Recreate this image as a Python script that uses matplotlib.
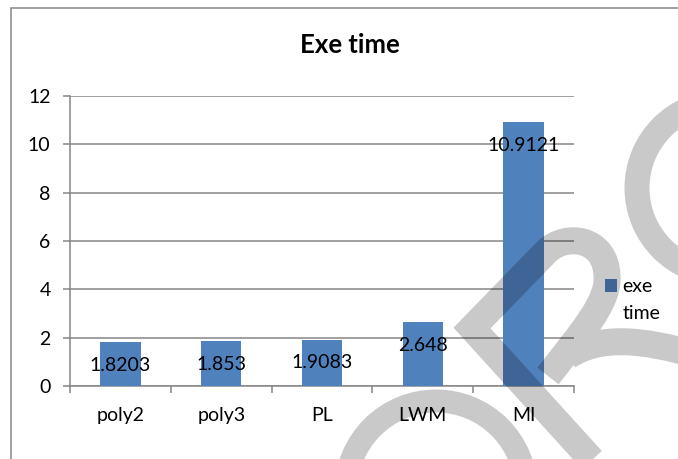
import matplotlib
matplotlib.use("Agg")
import matplotlib.pyplot as plt
from matplotlib.path import Path
from matplotlib.patches import PathPatch, Arc, Rectangle, Patch
import numpy as np

categories = ["poly2", "poly3", "PL", "LWM", "MI"]
exe_time = [1.8203, 1.853, 1.9083, 2.648, 10.9121]
value_labels = ["1.8203", "1.853", "1.9083", "2.648", "10.9121"]
yticks = [0, 2, 4, 6, 8, 10, 12]
series_name = ["exe", "time"]   # legend entry wraps onto two lines

BAR = "#4F81BD"
GRID = "#868686"
FONT = ["Lato", "DejaVu Sans"]
FS = 14

plt.rcParams["font.family"] = FONT

W, H = 678, 459
fig = plt.figure(figsize=(W / 100, H / 100), dpi=100)
fig.patch.set_facecolor("white")

# chart area border (runs off the right and bottom edge)
fig.add_artist(Rectangle((11 / W, -0.05), 1.1, 1 - 8 / H + 0.05, transform=fig.transFigure,
                         fill=False, edgecolor=GRID, linewidth=1.1))

ax = fig.add_axes([70 / W, 1 - 386 / H, (574 - 70) / W, (386 - 96) / H])
x = np.arange(len(categories))
bars = ax.bar(x, exe_time, width=0.4, color=BAR, zorder=3)

ax.set_xlim(-0.5, len(categories) - 0.5)
ax.set_ylim(0, 12)
ax.set_yticks(yticks)
ax.set_yticklabels([str(t) for t in yticks])
ax.set_xticks(x)
ax.set_xticklabels(categories)
ax.set_xticks(np.arange(len(categories) + 1) - 0.5, minor=True)

ax.yaxis.grid(True, color=GRID, linewidth=1.1, zorder=1)
ax.set_axisbelow(True)
for s in ["top", "right"]:
    ax.spines[s].set_visible(False)
for s in ["left", "bottom"]:
    ax.spines[s].set_color(GRID)
    ax.spines[s].set_linewidth(1.1)

ax.tick_params(axis="y", direction="out", length=5, width=1.1, color=GRID,
               labelsize=FS, pad=9, labelcolor="black")
ax.tick_params(axis="x", which="major", length=0, labelsize=FS, pad=15, labelcolor="black")
ax.tick_params(axis="x", which="minor", direction="out", length=5, width=1.1, color=GRID)

for i, (v, lab) in enumerate(zip(exe_time, value_labels)):
    ax.annotate(lab, (x[i], v), xytext=(0, -23), textcoords="offset pixels",
                ha="center", va="center", fontsize=FS, color="black", zorder=5)

blank = Patch(facecolor="none", edgecolor="none")
leg = fig.legend(handles=[bars, blank], labels=series_name, loc="upper left",
                 bbox_to_anchor=(605 / W, 1 - 278 / H), frameon=False,
                 prop={"family": FONT, "size": FS},
                 handlelength=0.64, handleheight=0.64, handletextpad=0.25,
                 borderaxespad=0, borderpad=0, labelspacing=0.52)

fig.text(350 / W, 1 - 45 / H, "Exe time", ha="center", va="center",
         fontsize=18.5, fontweight="bold", color="black")

# grey watermark lying over the page (drawn as a multiply-like dark overlay)
ov = fig.add_axes([0, 0, 1, 1], zorder=20)
ov.set_xlim(0, W)
ov.set_ylim(H, 0)
ov.set_axis_off()
ov.patch.set_alpha(0)
px = 72 / 100

verts = [(610, 480), (472, 328), (546, 252),
         (566, 232), (606, 238), (607, 276),
         (609, 302), (582, 332), (548, 376),
         (568, 356),
         (598, 336), (640, 338), (700, 356)]
codes = [Path.MOVETO, Path.LINETO, Path.LINETO,
         Path.CURVE4, Path.CURVE4, Path.CURVE4,
         Path.CURVE4, Path.CURVE4, Path.CURVE4,
         Path.MOVETO,
         Path.CURVE4, Path.CURVE4, Path.CURVE4]
ov.add_patch(PathPatch(Path(verts, codes), fill=False, linewidth=27 * px,
                       joinstyle="miter", edgecolor="black", alpha=0.21, capstyle="butt"))
ov.add_patch(Arc((723, 188), 172, 172, linewidth=25 * px, edgecolor="black",
                 alpha=0.21))
ov.add_patch(Arc((436, 491), 180, 180, linewidth=23 * px, edgecolor="black",
                 alpha=0.21))

fig.savefig("out.png", dpi=100, facecolor="white")
